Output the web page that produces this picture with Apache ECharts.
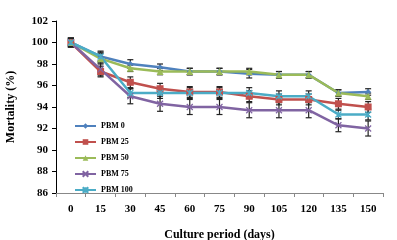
<!DOCTYPE html>
<html>
<head>
<meta charset="utf-8">
<script src="https://cdn.jsdelivr.net/npm/echarts@6/dist/echarts.min.js"></script>
<style>
html, body { margin: 0; padding: 0; background: #fff; }
#chart { width: 397px; height: 240px; }
</style>
</head>
<body>
<div id="chart"></div>
<script>
let days = ['0', '15', '30', '45', '60', '75', '90', '105', '120', '135', '150'];
let names = ['PBM 0', 'PBM 25', 'PBM 50', 'PBM 75', 'PBM 100'];
let pbm0   = [100, 98.7, 98.0, 97.7, 97.3, 97.3, 97.1, 97.0, 97.0, 95.3, 95.4];
let pbm25  = [100, 97.3, 96.3, 95.7, 95.4, 95.4, 95.0, 94.7, 94.7, 94.3, 94.0];
let pbm50  = [100, 98.5, 97.6, 97.3, 97.3, 97.3, 97.3, 97.0, 97.0, 95.3, 95.0];
let pbm75  = [100, 97.5, 95.0, 94.3, 94.0, 94.0, 93.7, 93.7, 93.7, 92.3, 92.0];
let pbm100 = [100, 98.7, 95.3, 95.3, 95.3, 95.3, 95.3, 95.0, 95.0, 93.3, 93.3];
let err0   = [0.4, 0.4, 0.4, 0.3, 0.3, 0.3, 0.4, 0.3, 0.3, 0.3, 0.3];
let err25  = [0.4, 0.5, 0.5, 0.5, 0.5, 0.5, 0.5, 0.5, 0.5, 0.5, 0.5];
let err50  = [0.4, 0.5, 0.3, 0.3, 0.3, 0.3, 0.3, 0.3, 0.3, 0.3, 0.3];
let err75  = [0.4, 0.6, 0.7, 0.7, 0.7, 0.7, 0.7, 0.7, 0.7, 0.6, 0.7];
let err100 = [0.4, 0.5, 0.4, 0.5, 0.5, 0.5, 0.5, 0.5, 0.5, 0.4, 0.5];

let colors = ['#4f81bd', '#c0504d', '#9bbb59', '#8064a2', '#4bacc6'];
let symbols = ['diamond', 'rect', 'triangle',
    'path://M0,0L10,10M10,0L0,10',
    'path://M0,0L10,10M10,0L0,10M5,0L5,10'];
let symbolSizes = [6, 7, 7, 6, 6];
let values = [pbm0, pbm25, pbm50, pbm75, pbm100];
let errs = [err0, err25, err50, err75, err100];
let font = '"Liberation Serif", "Times New Roman", serif';

let chart = echarts.init(document.getElementById('chart'));

let series = [];
values.forEach((vals, k) => {
    series.push({
        type: 'custom',
        name: names[k] + ' err',
        silent: true,
        z: 1,
        data: vals.map((v, i) => [i, v - errs[k][i], v + errs[k][i]]),
        renderItem: (params, api) => {
            let lo = api.coord([api.value(0), api.value(1)]),
                hi = api.coord([api.value(0), api.value(2)]),
                w = 3;
            return {
                type: 'group',
                children: [
                    { type: 'line', shape: { x1: lo[0], y1: lo[1], x2: hi[0], y2: hi[1] }, style: { stroke: '#222', lineWidth: 1.2 } },
                    { type: 'line', shape: { x1: lo[0] - w, y1: lo[1], x2: lo[0] + w, y2: lo[1] }, style: { stroke: '#222', lineWidth: 1.2 } },
                    { type: 'line', shape: { x1: hi[0] - w, y1: hi[1], x2: hi[0] + w, y2: hi[1] }, style: { stroke: '#222', lineWidth: 1.2 } }
                ]
            };
        }
    });
});
values.forEach((vals, k) => {
    series.push({
        name: names[k],
        type: 'line',
        data: vals,
        z: 3,
        symbol: symbols[k],
        symbolSize: symbolSizes[k],
        showAllSymbol: true,
        lineStyle: { color: colors[k], width: 2.5 },
        itemStyle: { color: colors[k], borderColor: colors[k], borderWidth: k >= 3 ? 1.2 : 0 }
    });
});

chart.setOption({
    animation: false,
    textStyle: { fontFamily: font },
    legend: {
        data: names,
        orient: 'vertical',
        left: 69,
        top: 117,
        itemGap: 8,
        itemWidth: 21,
        itemHeight: 7,
        textStyle: { fontFamily: font, fontWeight: 'bold', fontSize: 8, color: '#000' }
    },
    grid: {
        left: 56,
        right: 14,
        top: 21,
        bottom: 47,
        outerBoundsMode: 'none'
    },
    xAxis: {
        type: 'category',
        data: days,
        boundaryGap: true,
        name: 'Culture period (days)',
        nameLocation: 'middle',
        nameGap: 36,
        nameTextStyle: { fontFamily: font, fontWeight: 'bold', fontSize: 12, color: '#000' },
        axisLine: { lineStyle: { color: '#888', width: 1 } },
        axisTick: { show: true, length: 4, lineStyle: { color: '#888' } },
        axisLabel: { fontFamily: font, fontWeight: 'bold', fontSize: 11, color: '#000', margin: 11 }
    },
    yAxis: {
        type: 'value',
        min: 86,
        max: 102,
        interval: 2,
        name: 'Mortality (%)',
        nameLocation: 'middle',
        nameGap: 39,
        nameTextStyle: { fontFamily: font, fontWeight: 'bold', fontSize: 12, color: '#000' },
        axisLine: { show: true, lineStyle: { color: '#000', width: 1 } },
        axisTick: { show: true, length: 4, lineStyle: { color: '#000' } },
        splitLine: { show: false },
        axisLabel: { fontFamily: font, fontWeight: 'bold', fontSize: 11, color: '#000', margin: 8 }
    },
    series: series
});
</script>
</body>
</html>
